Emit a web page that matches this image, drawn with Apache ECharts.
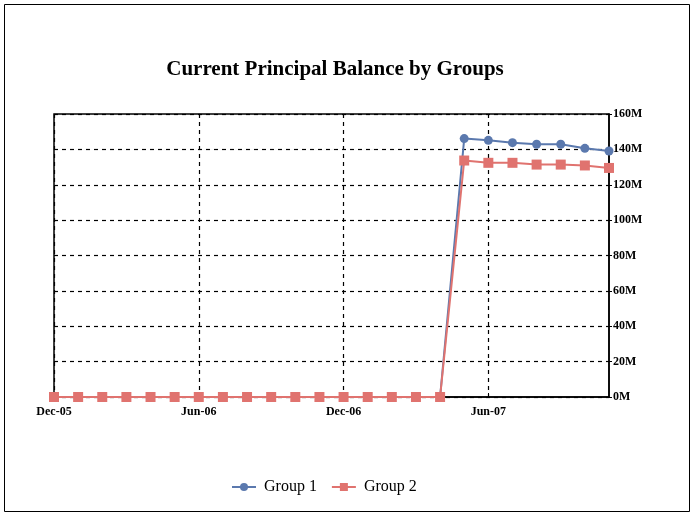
<!DOCTYPE html>
<html>
<head>
<meta charset="utf-8">
<script src="https://cdn.jsdelivr.net/npm/echarts@6/dist/echarts.min.js"></script>
<style>
  html, body { margin: 0; padding: 0; background: #fff; }
  #chart { width: 696px; height: 516px; }
</style>
</head>
<body>
<div id="chart"></div>
<script>
// Monthly reporting periods, Dec-05 through Nov-07
const months = [
  'Dec-05', 'Jan-06', 'Feb-06', 'Mar-06', 'Apr-06', 'May-06',
  'Jun-06', 'Jul-06', 'Aug-06', 'Sep-06', 'Oct-06', 'Nov-06',
  'Dec-06', 'Jan-07', 'Feb-07', 'Mar-07', 'Apr-07', 'May-07',
  'Jun-07', 'Jul-07', 'Aug-07', 'Sep-07', 'Oct-07', 'Nov-07'
];

// Current principal balance, millions
const group1 = [
  0, 0, 0, 0, 0, 0, 0, 0, 0, 0, 0, 0, 0, 0, 0, 0, 0,
  146.1, 145.1, 143.8, 142.9, 142.9, 140.6, 139.1
];
const group2 = [
  0, 0, 0, 0, 0, 0, 0, 0, 0, 0, 0, 0, 0, 0, 0, 0, 0,
  133.7, 132.4, 132.4, 131.4, 131.4, 130.9, 129.5
];

const yTicks = { min: 0, max: 160, step: 20 };

const serif = 'Liberation Serif, Times New Roman, serif';
const chart = echarts.init(document.getElementById('chart'), null, { renderer: 'canvas' });

chart.setOption({
  animation: false,
  backgroundColor: '#fff',
  graphic: [
    {
      type: 'rect',
      shape: { x: 4.5, y: 4.5, width: 685, height: 507 },
      style: { fill: 'none', stroke: '#000', lineWidth: 1 },
      silent: true
    },
    {
      type: 'text',
      x: 335, y: 70,
      style: {
        text: 'Current Principal Balance by Groups',
        textAlign: 'center', textVerticalAlign: 'middle',
        font: 'bold 21px ' + serif, fill: '#000'
      },
      silent: true
    }
  ],
  legend: {
    top: 474,
    left: 226,
    itemWidth: 24,
    itemHeight: 10,
    itemGap: 14,
    textStyle: { fontFamily: serif, fontSize: 16, color: '#000', padding: [0, 0, 0, 3] },
    data: ['Group 1', 'Group 2']
  },
  grid: {
    left: 54, right: 87, top: 114, bottom: 119,
    show: true, borderColor: '#000', borderWidth: 1.5, containLabel: false
  },
  xAxis: {
    type: 'category',
    data: months,
    boundaryGap: false,
    axisLine: { lineStyle: { color: '#000', width: 1.5 } },
    axisTick: { show: true, inside: true, interval: 5, length: 4, lineStyle: { color: '#000' } },
    axisLabel: {
      interval: 5, margin: 9,
      fontFamily: serif, fontSize: 12, fontWeight: 'bold', color: '#000'
    },
    splitLine: {
      show: true, interval: 5,
      lineStyle: { color: '#000', type: [4, 4], width: 1.2 }
    }
  },
  yAxis: {
    type: 'value',
    position: 'right',
    min: yTicks.min, max: yTicks.max, interval: yTicks.step,
    axisLine: { show: true, lineStyle: { color: '#000', width: 1.5 } },
    axisTick: { show: true, length: 3, lineStyle: { color: '#000' } },
    axisLabel: {
      margin: 4, formatter: '{value}M',
      fontFamily: serif, fontSize: 12, fontWeight: 'bold', color: '#000'
    },
    splitLine: { show: true, lineStyle: { color: '#000', type: [4, 4], width: 1.2 } }
  },
  series: [
    {
      name: 'Group 1',
      type: 'line',
      data: group1,
      symbol: 'circle',
      symbolSize: 9,
      color: '#5b79ae',
      lineStyle: { width: 2, color: '#5b79ae' },
      itemStyle: { color: '#5b79ae' },
      z: 2
    },
    {
      name: 'Group 2',
      type: 'line',
      data: group2,
      symbol: 'rect',
      symbolSize: 10,
      color: '#e0736f',
      lineStyle: { width: 2, color: '#e0736f' },
      itemStyle: { color: '#e0736f' },
      z: 3
    }
  ]
});
</script>
</body>
</html>
